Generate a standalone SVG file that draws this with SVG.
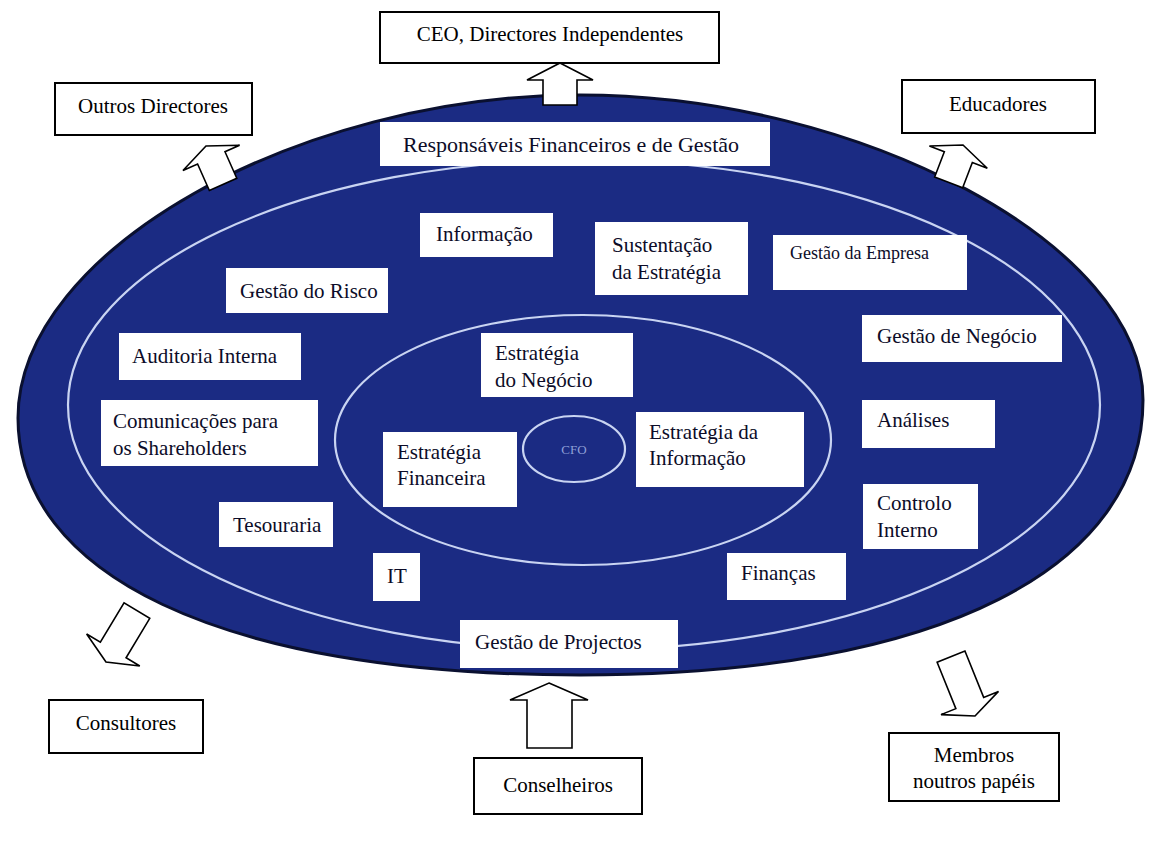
<svg xmlns="http://www.w3.org/2000/svg" width="1160" height="855" viewBox="0 0 1160 855">
<style>
text{font-family:'Liberation Serif','DejaVu Serif','Noto Serif',serif}
.t{font-size:21px;fill:#0c0c28}
.o{font-size:21px;fill:#000}
.ib{fill:#fff}
.ob{fill:#fff;stroke:#000;stroke-width:2}
.ar{fill:#fff;stroke:#000;stroke-width:1.6;stroke-linejoin:miter}
.ring{fill:none;stroke:#c9d4f2;stroke-width:2.2}
.c{font-size:13px;fill:#8e9fd6}
.s{font-size:18px}
.l{font-size:22px}
</style>
<rect width="1160" height="855" fill="#fff"/>
<g id="ellipse-outer">
<path d="M18,418 C18,250 300,95 580,95 C860,95 1143,245 1143,400 C1143,565 946,675 580,675 C215,675 18,572 18,418 Z" fill="#1b2b83" stroke="#0a1030" stroke-width="3"/>
</g>
<g id="rings">
<ellipse class="ring" cx="584" cy="405" rx="516" ry="245"/>
<ellipse class="ring" cx="583" cy="440" rx="248" ry="125"/>
<ellipse class="ring" cx="574" cy="449" rx="51" ry="33"/>
<text class="c" x="574" y="454" text-anchor="middle">CFO</text>
</g>
<g id="connectors">
<polygon class="ar" points="560,63 593,80 577,80 577,105 543,105 543,80 527,80"/>
<polygon class="ar" points="549,683 588,700 572,700 572,748 527,748 527,700 510,700"/>
<polygon class="ar" transform="translate(206,146) rotate(-24)" points="0,0 31,13 15,13 15,42 -15,42 -15,13 -31,13"/>
<polygon class="ar" transform="translate(963,145) rotate(21)" points="0,0 31,13 15,13 15,40 -15,40 -15,13 -31,13"/>
<polygon class="ar" transform="translate(106,662) rotate(211)" points="0,0 31,14 15,14 15,60 -15,60 -15,14 -31,14"/>
<polygon class="ar" transform="translate(975,716) rotate(158)" points="0,0 31,14 15,14 15,64 -15,64 -15,14 -31,14"/>
</g>
<g id="n-ceo"><rect class="ob" x="380" y="12" width="339" height="51"/><text class="o" x="550" y="41" text-anchor="middle">CEO, Directores Independentes</text></g>
<g id="n-outros"><rect class="ob" x="55" y="83" width="197" height="52"/><text class="o" x="153" y="113" text-anchor="middle">Outros Directores</text></g>
<g id="n-educadores"><rect class="ob" x="902" y="80" width="193" height="53"/><text class="o" x="998" y="111" text-anchor="middle">Educadores</text></g>
<g id="n-consultores"><rect class="ob" x="49" y="700" width="154" height="53"/><text class="o" x="126" y="730" text-anchor="middle">Consultores</text></g>
<g id="n-membros"><rect class="ob" x="889" y="733" width="170" height="68"/><text class="o" x="974" y="762" text-anchor="middle">Membros</text><text class="o" x="974" y="788" text-anchor="middle">noutros papéis</text></g>
<g id="n-conselheiros"><rect class="ob" x="474" y="758" width="168" height="56"/><text class="o" x="558" y="792" text-anchor="middle">Conselheiros</text></g>
<g id="n-responsaveis"><rect class="ib" x="380" y="122" width="390" height="44"/><text class="t l" x="403" y="152">Responsáveis Financeiros e de Gestão</text></g>
<g id="n-informacao"><rect class="ib" x="420" y="213" width="133" height="44"/><text class="t" x="436" y="241">Informação</text></g>
<g id="n-sustentacao"><rect class="ib" x="595" y="222" width="153" height="73"/><text class="t" x="612" y="252">Sustentação</text><text class="t" x="612" y="279">da Estratégia</text></g>
<g id="n-empresa"><rect class="ib" x="773" y="235" width="194" height="55"/><text class="t s" x="790" y="259">Gestão da Empresa</text></g>
<g id="n-risco"><rect class="ib" x="226" y="268" width="162" height="45"/><text class="t" x="240" y="298">Gestão do Risco</text></g>
<g id="n-negocio"><rect class="ib" x="862" y="315" width="200" height="47"/><text class="t" x="877" y="343">Gestão de Negócio</text></g>
<g id="n-auditoria"><rect class="ib" x="119" y="333" width="182" height="47"/><text class="t" x="132" y="363">Auditoria Interna</text></g>
<g id="n-estrat-negocio"><rect class="ib" x="481" y="333" width="152" height="64"/><text class="t" x="495" y="360">Estratégia</text><text class="t" x="495" y="387">do Negócio</text></g>
<g id="n-comunicacoes"><rect class="ib" x="101" y="400" width="217" height="66"/><text class="t" x="113" y="428">Comunicações para</text><text class="t" x="113" y="455">os Shareholders</text></g>
<g id="n-analises"><rect class="ib" x="862" y="400" width="133" height="48"/><text class="t" x="877" y="427">Análises</text></g>
<g id="n-estrat-fin"><rect class="ib" x="383" y="432" width="134" height="75"/><text class="t" x="397" y="459">Estratégia</text><text class="t" x="397" y="485">Financeira</text></g>
<g id="n-estrat-info"><rect class="ib" x="636" y="412" width="168" height="75"/><text class="t" x="649" y="439">Estratégia da</text><text class="t" x="649" y="465">Informação</text></g>
<g id="n-controlo"><rect class="ib" x="863" y="484" width="115" height="65"/><text class="t" x="877" y="510">Controlo</text><text class="t" x="877" y="537">Interno</text></g>
<g id="n-tesouraria"><rect class="ib" x="219" y="502" width="114" height="45"/><text class="t" x="233" y="532">Tesouraria</text></g>
<g id="n-it"><rect class="ib" x="373" y="553" width="47" height="48"/><text class="t" x="387" y="583">IT</text></g>
<g id="n-financas"><rect class="ib" x="727" y="553" width="119" height="47"/><text class="t" x="741" y="580">Finanças</text></g>
<g id="n-projectos"><rect class="ib" x="460" y="620" width="218" height="48"/><text class="t" x="475" y="649">Gestão de Projectos</text></g>
</svg>
